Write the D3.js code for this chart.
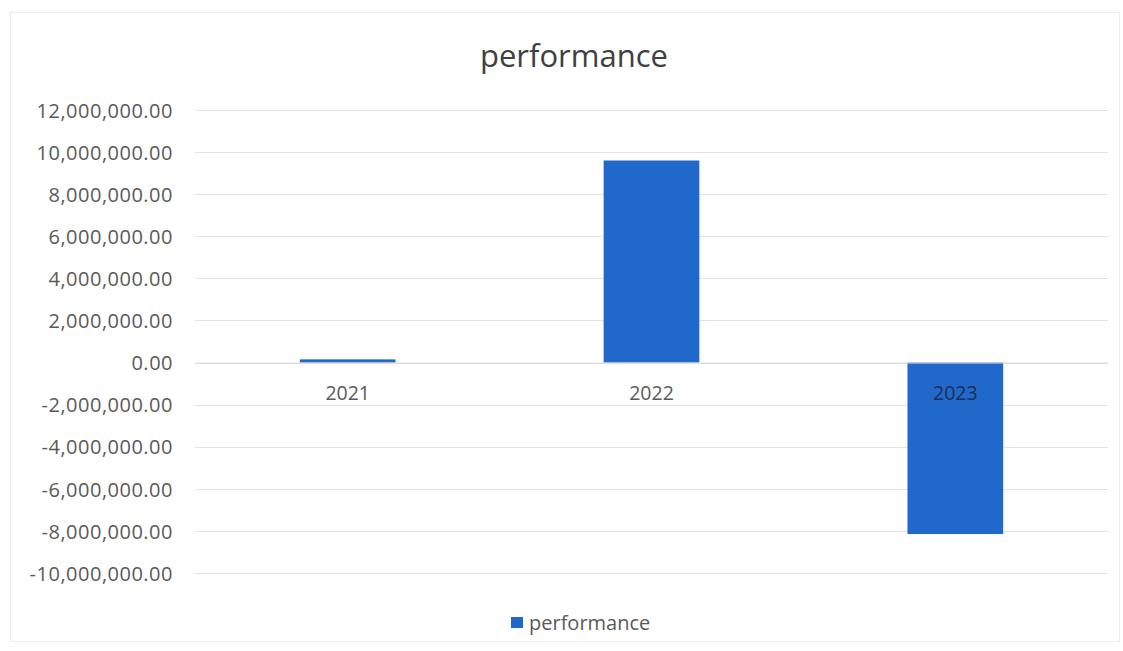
<!DOCTYPE html>
<html>
<head>
<meta charset="utf-8">
<script src="https://cdn.jsdelivr.net/npm/d3@7/dist/d3.min.js"></script>
<style>
  html, body { margin: 0; padding: 0; background: #fff; }
  svg { display: block; }
</style>
</head>
<body>
<svg id="chart" width="1123" height="651"></svg>
<script>
// Annual performance values
const categories = ["2021", "2022", "2023"];
const performance = [150000, 9600000, -8150000];
const tickValues = [12000000, 10000000, 8000000, 6000000, 4000000, 2000000, 0,
                    -2000000, -4000000, -6000000, -8000000, -10000000];
const seriesName = "performance";
const titleText = "performance";

const svg = d3.select("#chart");
const W = 1123, H = 651;
const font = "'Open Sans', 'Noto Sans', sans-serif";
const barColor = "#2068c9";

// Chart frame
svg.append("rect")
  .attr("x", 10.5).attr("y", 12.5)
  .attr("width", W - 14).attr("height", H - 22)
  .attr("fill", "#fff").attr("stroke", "#ececec").attr("stroke-width", 1);

const plot = { left: 195, right: 1108, top: 110, bottom: 573 };

const y = d3.scaleLinear()
  .domain([-10000000, 12000000])
  .range([plot.bottom, plot.top]);

const x = d3.scaleBand()
  .domain(categories)
  .range([plot.left, plot.right])
  .paddingInner(0.685)
  .paddingOuter(0.345);

// Horizontal gridlines
svg.append("g")
  .selectAll("line")
  .data(tickValues)
  .join("line")
  .attr("x1", plot.left).attr("x2", plot.right)
  .attr("y1", d => Math.round(y(d)) + 0.5)
  .attr("y2", d => Math.round(y(d)) + 0.5)
  .attr("stroke", "#e2e2e2").attr("stroke-width", 1);

// Y axis labels (plain hyphen for negatives)
const locale = d3.formatLocale({ decimal: ".", thousands: ",", grouping: [3], currency: ["", ""], minus: "-" });
const fmt = locale.format(",.2f");
const yAxis = d3.axisLeft(y)
  .tickValues(tickValues)
  .tickFormat(d => fmt(d))
  .tickSize(0)
  .tickPadding(0);
const yg = svg.append("g")
  .attr("transform", `translate(${plot.left - 22},0)`)
  .call(yAxis);
yg.select(".domain").remove();
yg.selectAll("text")
  .attr("dy", "0.36em")
  .attr("font-family", font)
  .attr("font-size", 20)
  .attr("letter-spacing", 0.5)
  .attr("fill", "#5a5a5a");

// Bars
svg.append("g")
  .selectAll("rect")
  .data(categories.map((c, i) => ({ c, v: performance[i] })))
  .join("rect")
  .attr("x", d => x(d.c))
  .attr("width", x.bandwidth())
  .attr("y", d => Math.min(y(d.v), y(0)))
  .attr("height", d => Math.max(2.5, Math.abs(y(d.v) - y(0))))
  .attr("fill", barColor);

// Category axis along zero line
const xAxis = d3.axisBottom(x).tickSize(0).tickPadding(0);
const xg = svg.append("g")
  .attr("transform", `translate(0,${y(0)})`)
  .call(xAxis);
xg.select(".domain")
  .attr("stroke", "#d9d9d9");
xg.selectAll("text")
  .attr("dy", "0.36em")
  .attr("y", 30)
  .attr("font-family", font)
  .attr("font-size", 19.5)
  .attr("fill", (d, i) => performance[i] < 0 ? "#1b2f55" : "#5a5a5a");

// Title
svg.append("text")
  .attr("x", 574).attr("y", 67)
  .attr("text-anchor", "middle")
  .attr("font-family", font)
  .attr("font-size", 31)
  .attr("fill", "#404040")
  .text(titleText);

// Legend
const lg = svg.append("g").attr("transform", "translate(511,617)");
lg.append("rect")
  .attr("x", 0).attr("y", 0)
  .attr("width", 12).attr("height", 11)
  .attr("fill", barColor);
lg.append("text")
  .attr("x", 18).attr("y", 5.5)
  .attr("dy", "0.36em")
  .attr("font-family", font)
  .attr("font-size", 20)
  .attr("fill", "#5a5a5a")
  .text(seriesName);
</script>
</body>
</html>
